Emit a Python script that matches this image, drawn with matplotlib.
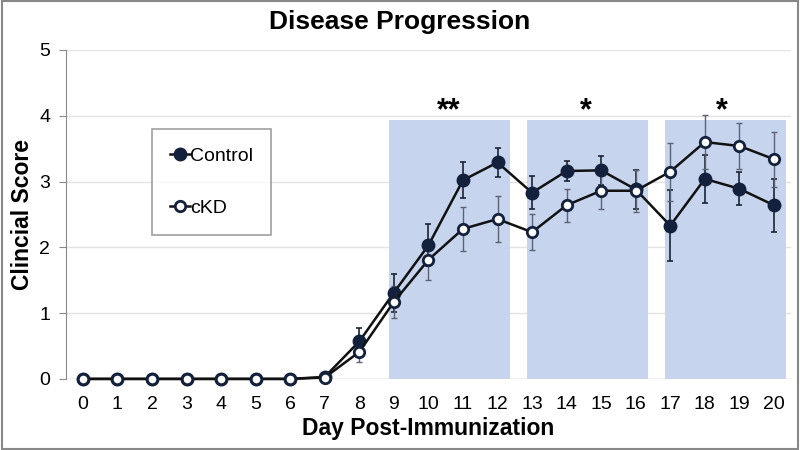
import numpy as np
import matplotlib.pyplot as plt

plt.rcParams['font.family'] = ['Liberation Sans', 'DejaVu Sans']

days = np.arange(0, 21)
control = [0, 0, 0, 0, 0, 0, 0, 0.03, 0.57, 1.31, 2.03, 3.02, 3.29, 2.83, 3.16,
           3.17, 2.88, 2.33, 3.04, 2.89, 2.64]
control_err = [0, 0, 0, 0, 0, 0, 0, 0.03, 0.2, 0.29, 0.32, 0.27, 0.22, 0.25, 0.15,
               0.22, 0.3, 0.54, 0.37, 0.25, 0.4]
ckd = [0, 0, 0, 0, 0, 0, 0, 0.02, 0.41, 1.17, 1.81, 2.28, 2.43, 2.23, 2.64,
       2.86, 2.86, 3.15, 3.6, 3.54, 3.34]
ckd_err = [0, 0, 0, 0, 0, 0, 0, 0.02, 0.15, 0.24, 0.3, 0.33, 0.35, 0.27, 0.25,
           0.27, 0.32, 0.44, 0.41, 0.35, 0.42]

# shaded windows (start, end) and significance marks
windows = [(8.85, 12.35), (12.85, 16.35), (16.85, 20.35)]
shade_top = 3.94
stars = ['**', '*', '*']
star_x = [10.6, 14.55, 18.5]

navy = '#14213d'

fig = plt.figure(figsize=(8, 4.5), dpi=100)
ax = fig.add_axes([0.082, 0.158, 0.907, 0.731])

for (a, b) in windows:
    ax.axvspan(a, b, ymin=0, ymax=shade_top / 5, color='#c6d4ee', lw=0, zorder=1)
for s, xs in zip(stars, star_x):
    ax.text(xs, 3.84, s, ha='center', va='bottom', fontsize=22,
            fontweight='bold', zorder=5)

ax.errorbar(days, control, yerr=control_err, fmt='none', ecolor='#1c2433',
            elinewidth=1.2, capsize=2, capthick=1.2, zorder=3)
ax.errorbar(days, ckd, yerr=ckd_err, fmt='none', ecolor='#5b6270',
            elinewidth=1.0, capsize=2, capthick=1.0, zorder=3)
ax.plot(days, control, color='#111111', lw=1.8, marker='o', ms=8.5,
        mfc=navy, mec=navy, mew=1.5, label='Control', zorder=4, clip_on=False)
ax.plot(days, ckd, color='#111111', lw=1.8, marker='o', ms=7.5,
        mfc='white', mec=navy, mew=2.0, label='cKD', zorder=4, clip_on=False)

ax.set_xlim(-0.5, 20.5)
ax.set_ylim(0, 5)
ax.set_xticks(days)
ax.set_yticks(range(0, 6))
ax.tick_params(axis='x', length=0, labelsize=14, pad=12)
ax.tick_params(axis='y', length=5, color='#888888', labelsize=14, pad=6)
ax.yaxis.grid(True, color='#e3e3e3', lw=1)
ax.set_axisbelow(True)
for side in ['top', 'right', 'bottom']:
    ax.spines[side].set_visible(False)
ax.spines['left'].set_color('#888888')
ax.axhline(0, color='#cccccc', lw=1, zorder=2)

fig.suptitle('Disease Progression', x=0.499, y=0.977, fontsize=19,
             fontweight='bold', va='top')
ax.set_xlabel('Day Post-Immunization', fontsize=16.5, fontweight='bold', labelpad=3)
ax.set_ylabel('Clincial Score', fontsize=16.5, fontweight='bold', labelpad=4)

leg = ax.legend(loc='upper left', bbox_to_anchor=(152 / 800, 1 - 129 / 450),
                bbox_transform=fig.transFigure, fontsize=14, frameon=True,
                fancybox=False, edgecolor='#888888', handlelength=1.0,
                handletextpad=0.0, labelspacing=1.75, borderpad=0.95,
                borderaxespad=0, markerscale=1.0)
leg.get_frame().set_linewidth(1.2)

fig.patches.append(plt.Rectangle((0.002, 0.003), 0.995, 0.994, fill=False,
                                 edgecolor='#888888', lw=1.5,
                                 transform=fig.transFigure))

fig.savefig('out.png', dpi=100)
